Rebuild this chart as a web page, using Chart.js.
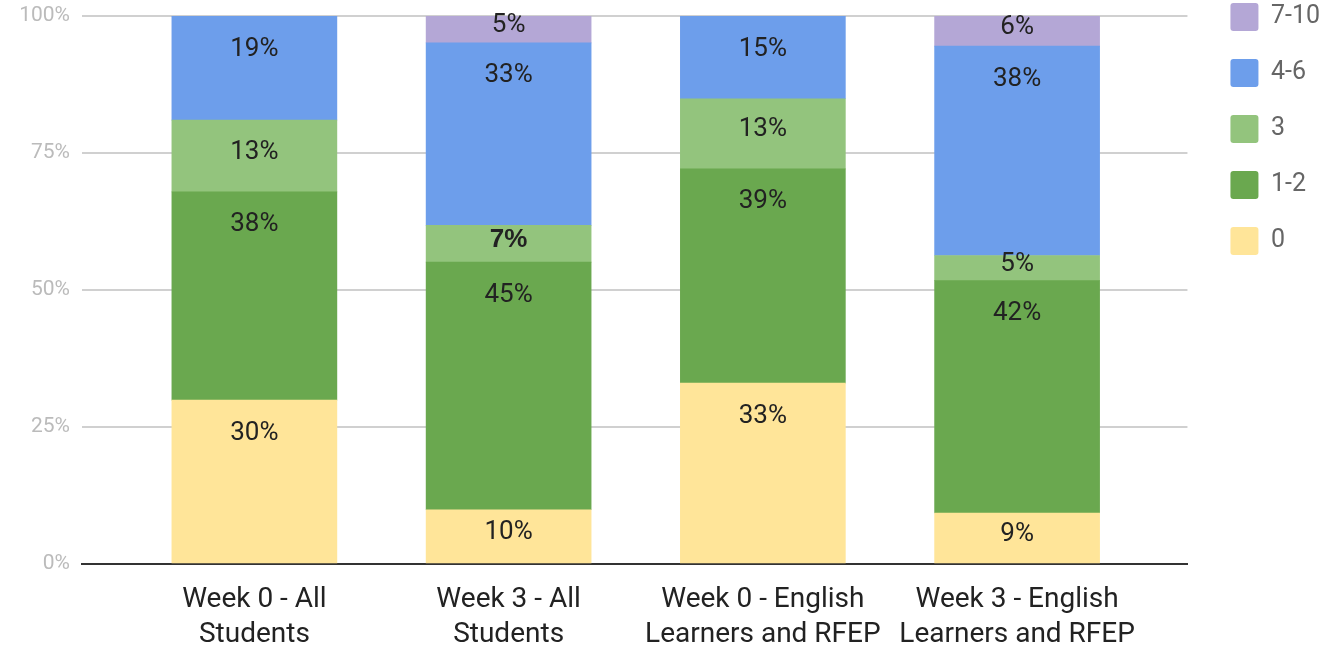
<!DOCTYPE html>
<html>
<head>
<meta charset="utf-8">
<script src="https://cdn.jsdelivr.net/npm/chart.js@4.4.0/dist/chart.umd.min.js"></script>
<style>
html,body{margin:0;padding:0;background:#fff;overflow:hidden;}
#wrap{width:1329px;height:646px;}
</style>
</head>
<body>
<div id="wrap"><canvas id="chart"></canvas></div>
<script>
// -------- data --------
const categories = [
    ['Week 0 - All','Students'],
    ['Week 3 - All','Students'],
    ['Week 0 - English','Learners and RFEP'],
    ['Week 3 - English','Learners and RFEP']
];
const seriesNames = ['0','1-2','3','4-6','7-10'];
const val0   = [29.9,  9.9, 33.0,  9.3];
const val12  = [38.0, 45.2, 39.1, 42.4];
const val3   = [13.1,  6.7, 12.8,  4.6];
const val46  = [19.0, 33.3, 15.1, 38.2];
const val710 = [ 0,    4.9,  0,    5.5];
const yTicks = [0, 25, 50, 75, 100];

const colors = ['#ffe599','#6aa84f','#93c47d','#6d9eeb','#b4a7d6'];
const seriesValues = [val0, val12, val3, val46, val710];

// -------- labels inside the bars --------
const segmentLabels = {
    id:'segmentLabels',
    afterDatasetsDraw(chart){
        const ctx = chart.ctx;
        ctx.save();
        ctx.textAlign = 'center';
        ctx.textBaseline = 'middle';
        ctx.fillStyle = '#222';
        chart.data.datasets.forEach((ds, di)=>{
            chart.getDatasetMeta(di).data.forEach((bar, i)=>{
                const v = ds.data[i].y;
                if(!v) return;
                const h = bar.base - bar.y;
                const bold = (di===2 && i===1);
                ctx.font = bold ? "bold 26px 'Liberation Sans'" : "26px Roboto";
                ctx.fillText(Math.round(v)+'%', bar.x, bar.y + Math.min(33, h/2-4));
            });
        });
        ctx.restore();
    }
};

// legend sits higher and further right than chart.js puts it
const legendShift = {
    id:'legendShift',
    afterLayout(chart){
        const lg = chart.legend;
        lg.top -= 25; lg.bottom -= 25;
        lg.left += 15; lg.right += 15;
    }
};

new Chart(document.getElementById('chart'),{
    type:'bar',
    data:{
        datasets: seriesNames.map((name, k)=>({
            label:name,
            data: seriesValues[k].map((v, i)=>({x:i, y:v})),
            backgroundColor: colors[k],
            borderWidth:0,
            barThickness:165
        }))
    },
    options:{
        responsive:true,
        maintainAspectRatio:false,
        animation:false,
        layout:{padding:{top:0, right:14, left:0, bottom:0}},
        plugins:{
            tooltip:{enabled:false},
            legend:{
                position:'right',
                align:'start',
                reverse:true,
                labels:{
                    boxWidth:28, boxHeight:28, padding:28,
                    color:'#666',
                    font:{family:'Roboto', size:25},
                    useBorderRadius:true, borderRadius:3
                }
            }
        },
        scales:{
            x:{
                type:'linear', min:-0.678, max:3.67, stacked:true,
                offset:false,
                afterBuildTicks: s=>{ s.ticks = categories.map((c, i)=>({value:i})); },
                afterFit: s=>{ s.height = 82; },
                grid:{display:false, drawTicks:false, offset:false},
                border:{color:'#333', width:2},
                ticks:{
                    callback: v=>categories[v],
                    color:'#222',
                    font:{family:'Roboto', size:28, lineHeight:1.25},
                    padding:18, maxRotation:0, autoSkip:false
                }
            },
            y:{
                stacked:true, min:0, max:100,
                afterBuildTicks: s=>{ s.ticks = yTicks.map(v=>({value:v})); },
                afterFit: s=>{ s.width = 82; s.paddingTop = 16; },
                grid:{color:'#d0d0d0', lineWidth:2, drawTicks:false},
                border:{display:false},
                ticks:{
                    callback: v=>v+'%',
                    color:'#bbb',
                    font:{family:'Roboto', size:21},
                    padding:12
                }
            }
        }
    },
    plugins:[segmentLabels, legendShift]
});
</script>
</body>
</html>
